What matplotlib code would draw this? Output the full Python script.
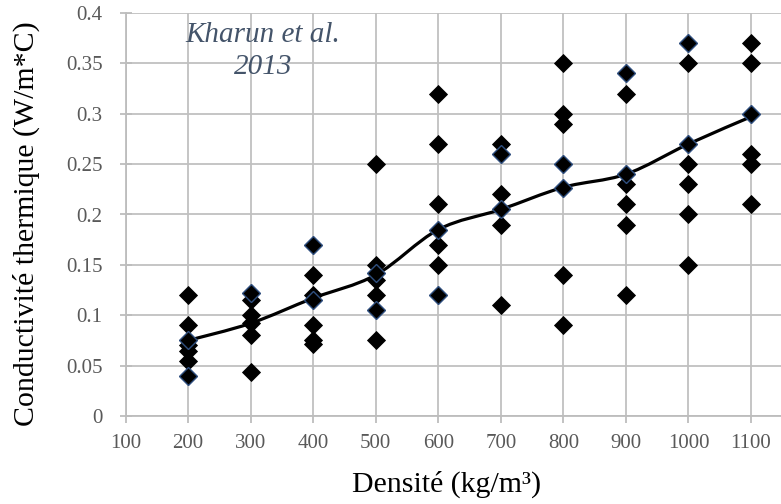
import matplotlib
matplotlib.use("Agg")
import matplotlib.pyplot as plt
from matplotlib.path import Path
from matplotlib.patches import PathPatch

plt.rcParams['font.family'] = ['Liberation Serif', 'DejaVu Serif']

# Densities (kg/m3)
densities = [200, 300, 400, 500, 600, 700, 800, 900, 1000, 1100]

# Measured conductivities (black-edged diamonds), per density
black_pts = {
    200: [0.12, 0.09, 0.07, 0.065, 0.055],
    300: [0.115, 0.10, 0.092, 0.08, 0.044],
    400: [0.14, 0.12, 0.09, 0.075, 0.071],
    500: [0.25, 0.15, 0.135, 0.12, 0.075],
    600: [0.32, 0.27, 0.21, 0.17, 0.15],
    700: [0.27, 0.22, 0.19, 0.11],
    800: [0.35, 0.30, 0.29, 0.14, 0.09],
    900: [0.32, 0.23, 0.21, 0.19, 0.12],
    1000: [0.35, 0.25, 0.23, 0.20, 0.15],
    1100: [0.37, 0.35, 0.26, 0.25, 0.21],
}
# Points with dark blue edge
blue_pts = {
    200: [0.075, 0.04],
    300: [0.122],
    400: [0.17, 0.115],
    500: [0.142, 0.105],
    600: [0.185, 0.12],
    700: [0.26, 0.205],
    800: [0.25, 0.226],
    900: [0.34, 0.24],
    1000: [0.37, 0.27],
    1100: [0.30],
}
# Mean trend line
mean_vals = [0.075, 0.092, 0.117, 0.14, 0.185, 0.205, 0.227, 0.24, 0.27, 0.297]

x_ticks = [100, 200, 300, 400, 500, 600, 700, 800, 900, 1000, 1100]
y_ticks = [0, 0.05, 0.1, 0.15, 0.2, 0.25, 0.3, 0.35, 0.4]
y_ticklabels = ['0', '0.05', '0.1', '0.15', '0.2', '0.25', '0.3', '0.35', '0.4']

W, H = 781, 504
L, R, T, B = 125.5, 781, 13, 416
fig = plt.figure(figsize=(W / 100, H / 100), dpi=100)
ax = fig.add_axes([L / W, (H - B) / H, (R - L) / W, (B - T) / H])
ax.set_xlim(100, 1148)
ax.set_ylim(0, 0.4)

ax.grid(True, color='#c0c0c0', linewidth=1.3)
ax.set_axisbelow(True)
for s in ['top', 'right']:
    ax.spines[s].set_visible(False)
for s in ['left', 'bottom']:
    ax.spines[s].set_color('#bdbdbd')
    ax.spines[s].set_linewidth(1.3)

# Smooth line (Excel style Bezier through points)
pts = list(zip(densities, mean_vals))
verts = [pts[0]]
codes = [Path.MOVETO]
n = len(pts)
for i in range(n - 1):
    p0 = pts[i - 1] if i > 0 else pts[i]
    p1 = pts[i]
    p2 = pts[i + 1]
    p3 = pts[i + 2] if i + 2 < n else pts[i + 1]
    c1 = (p1[0] + (p2[0] - p0[0]) / 6, p1[1] + (p2[1] - p0[1]) / 6)
    c2 = (p2[0] - (p3[0] - p1[0]) / 6, p2[1] - (p3[1] - p1[1]) / 6)
    verts += [c1, c2, p2]
    codes += [Path.CURVE4] * 3
ax.add_patch(PathPatch(Path(verts, codes), facecolor='none', edgecolor='black',
                       linewidth=2.3, zorder=3))

for d in densities:
    vals = black_pts[d]
    ax.plot([d] * len(vals), vals, linestyle='none', marker='D', markersize=9,
            markerfacecolor='black', markeredgecolor='black', markeredgewidth=0.6, zorder=4)
    vals = blue_pts[d]
    ax.plot([d] * len(vals), vals, linestyle='none', marker='D', markersize=9,
            markerfacecolor='black', markeredgecolor='#2f4f7f', markeredgewidth=1.0, zorder=5)

ax.set_xticks(x_ticks)
ax.set_xticklabels([str(t) for t in x_ticks])
ax.set_yticks(y_ticks)
ax.set_yticklabels(y_ticklabels)
ax.tick_params(axis='both', colors='#bdbdbd', labelcolor='#595959', labelsize=15,
               width=1.3)
ax.tick_params(axis='x', direction='out', length=5, pad=8)
ax.tick_params(axis='y', direction='inout', length=9, pad=12)

ax.set_xlabel('Densité (kg/m³)', fontsize=21.5, color='black')
ax.xaxis.set_label_coords((447 - L) / (R - L), (B - 471) / (B - T))
ax.set_ylabel('Conductivité thermique (W/m*C)', fontsize=21.5, color='black')
ax.yaxis.set_label_coords((40 - L) / (R - L), (B - 224) / (B - T))

ax.text(320, 0.3625, 'Kharun et al.\n2013', ha='center', va='center', fontsize=21,
        style='italic', color='#44546a', linespacing=1.3)

fig.savefig('out.png', dpi=100)
